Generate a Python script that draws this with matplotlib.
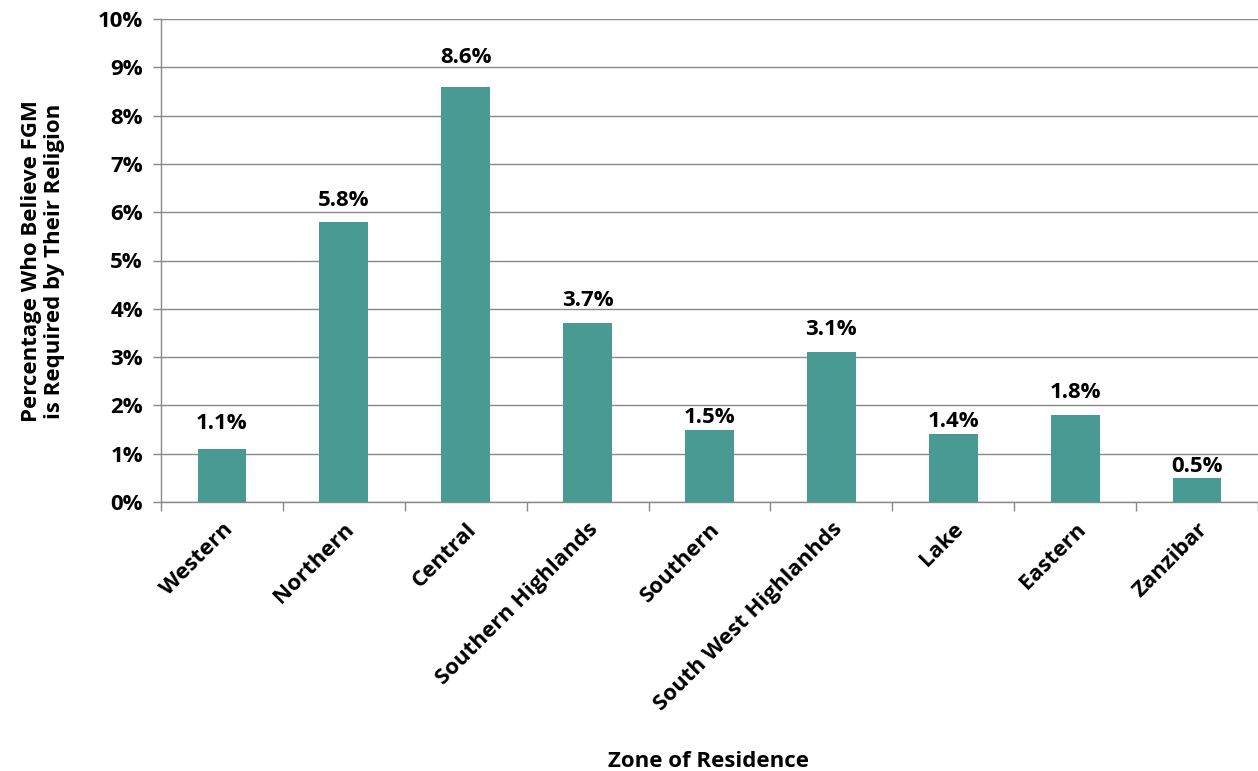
import matplotlib
matplotlib.use("Agg")
import matplotlib.pyplot as plt
from matplotlib.ticker import FuncFormatter, MultipleLocator

zones = ["Western", "Northern", "Central", "Southern Highlands", "Southern",
         "South West Highlanhds", "Lake", "Eastern", "Zanzibar"]
values = [1.1, 5.8, 8.6, 3.7, 1.5, 3.1, 1.4, 1.8, 0.5]

# vertical gap (in pixels) between each bar top and its value label
label_gap_px = [20, 16, 24, 17, 7, 17, 7, 17, 6]

bar_color = "#4A9A94"
grid_color = "#898989"
FS = 16
plt.rcParams["font.family"] = ["Open Sans", "DejaVu Sans"]
plt.rcParams["font.weight"] = "bold"

DPI = 100
fig = plt.figure(figsize=(12.58, 7.71), dpi=DPI)
ax = fig.add_axes([161 / 1258, 269 / 771, 1097 / 1258, 483 / 771])

x = list(range(len(zones)))
ax.bar(x, values, width=0.4, color=bar_color, zorder=3)
for xi, v, gap in zip(x, values, label_gap_px):
    ax.annotate(f"{v:.1f}%", (xi, v), xytext=(0, gap * 72 / DPI),
                textcoords="offset points", ha="center", va="baseline",
                fontsize=FS, fontweight="bold", zorder=4)

ax.set_xlim(-0.5, len(zones) - 0.5)
ax.set_ylim(0, 10)
ax.yaxis.set_major_locator(MultipleLocator(1))
ax.yaxis.set_major_formatter(FuncFormatter(lambda v, p: f"{v:.0f}%"))
ax.grid(axis="y", color=grid_color, linewidth=1.0, zorder=0)

for s in ["top", "right"]:
    ax.spines[s].set_visible(False)
for s in ["left", "bottom"]:
    ax.spines[s].set_color(grid_color)
    ax.spines[s].set_linewidth(1.0)

# category boundaries carry the tick marks, category centres carry the names
ax.set_xticks([i - 0.5 for i in range(len(zones) + 1)], minor=False)
ax.set_xticklabels([])
ax.set_xticks(x, minor=True)
ax.set_xticklabels(zones, minor=True, rotation=45, ha="right", va="top",
                   rotation_mode="anchor", fontsize=FS, fontweight="bold")
ax.tick_params(axis="x", which="major", length=6.5, width=1.0, color=grid_color)
ax.tick_params(axis="x", which="minor", length=0, pad=12)
ax.tick_params(axis="y", length=6, width=1.0, color=grid_color, labelsize=FS, pad=7)
for lbl in ax.get_yticklabels():
    lbl.set_fontweight("bold")

fig.text(43 / 1258, 1 - 261 / 771,
         "Percentage Who Believe FGM\nis Required by Their Religion",
         rotation=90, ha="center", va="center", fontsize=FS, fontweight="bold",
         multialignment="center", linespacing=1.1)
fig.text(709 / 1258, 4 / 771, "Zone of Residence", ha="center", va="baseline",
         fontsize=FS, fontweight="bold")

fig.savefig("out.png", dpi=DPI)
